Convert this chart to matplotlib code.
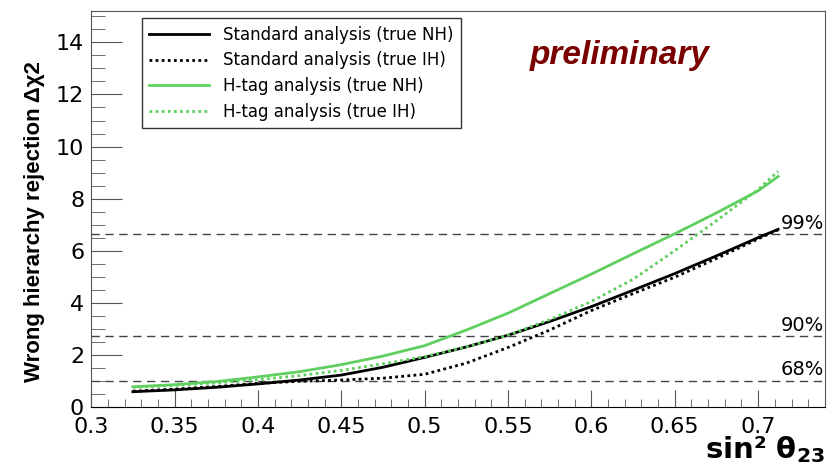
import matplotlib
matplotlib.use("Agg")
import matplotlib.pyplot as plt
from matplotlib.ticker import MultipleLocator

plt.rcParams['font.family'] = ['DejaVu Sans']

# sin^2 theta23 grid
sin2 = [0.325, 0.35, 0.375, 0.40, 0.425, 0.45, 0.475, 0.50, 0.525,
        0.55, 0.575, 0.60, 0.625, 0.65, 0.675, 0.70, 0.712]

std_nh = [0.58, 0.65, 0.75, 0.88, 1.03, 1.22, 1.52, 1.90, 2.30,
          2.75, 3.28, 3.85, 4.48, 5.12, 5.80, 6.50, 6.82]
std_ih = [0.60, 0.68, 0.78, 0.90, 0.98, 1.03, 1.10, 1.25, 1.68,
          2.28, 2.95, 3.70, 4.35, 4.98, 5.70, 6.45, 6.80]
htag_nh = [0.77, 0.85, 0.97, 1.15, 1.35, 1.62, 1.95, 2.35, 2.95,
           3.60, 4.35, 5.10, 5.88, 6.65, 7.45, 8.30, 8.85]
htag_ih = [0.75, 0.82, 0.92, 1.04, 1.20, 1.40, 1.65, 1.93, 2.30,
           2.75, 3.35, 4.05, 4.90, 6.00, 7.15, 8.35, 9.05]

# confidence levels
cl_values = [1.0, 2.71, 6.63]
cl_labels = ["68%", "90%", "99%"]

green = '#5fcf5f'

fig = plt.figure(figsize=(8.29, 4.66), dpi=100)
ax = fig.add_axes([0.110, 0.127, 0.885, 0.849])

for v, lab in zip(cl_values, cl_labels):
    ax.axhline(v, color='#444444', lw=1.0, ls=(0, (6, 4)))
    ax.text(0.7395, v + 0.05, lab, ha='right', va='bottom', fontsize=14)

ax.plot(sin2, std_nh, color='black', lw=2.0, label='Standard analysis (true NH)')
ax.plot(sin2, std_ih, color='black', lw=2.0, ls=(0, (1, 1.2)), label='Standard analysis (true IH)')
ax.plot(sin2, htag_nh, color=green, lw=2.0, label='H-tag analysis (true NH)')
ax.plot(sin2, htag_ih, color=green, lw=2.0, ls=(0, (1, 1.2)), label='H-tag analysis (true IH)')

ax.set_xlim(0.3, 0.74)
ax.set_ylim(0, 15.2)
ax.xaxis.set_major_locator(MultipleLocator(0.05))
ax.xaxis.set_minor_locator(MultipleLocator(0.01))
ax.yaxis.set_major_locator(MultipleLocator(2))
ax.yaxis.set_minor_locator(MultipleLocator(0.5))
ax.tick_params(axis='x', which='major', direction='in', length=12, labelsize=16, pad=7)
ax.tick_params(axis='x', which='minor', direction='in', length=6)
ax.tick_params(axis='y', which='major', direction='in', length=22, labelsize=16, pad=5)
ax.tick_params(axis='y', which='minor', direction='in', length=10)
ax.tick_params(which='both', color='#555555')
ax.set_xticklabels([f"{t:g}" for t in ax.get_xticks()])
for s in ax.spines.values():
    s.set_color('#555555')
ax.spines['bottom'].set_color('black')

ax.set_ylabel('Wrong hierarchy rejection Δχ2', fontsize=16, fontweight='bold',
              family=['Liberation Sans', 'DejaVu Sans'])
ax.yaxis.set_label_coords(-0.063, 0.467)
fig.text(0.995, 0.002, r'sin² θ$_\mathbf{23}$', ha='right', va='bottom', fontsize=21,
         fontweight='bold')

ax.text(0.72, 0.889, 'preliminary', transform=ax.transAxes, fontsize=24,
        fontweight='bold', fontstyle='italic', color='#7a0000', ha='center', va='center',
        family=['Liberation Sans'])

leg = ax.legend(loc='upper left', bbox_to_anchor=(0.069, 0.982), borderaxespad=0,
                fontsize=12, frameon=True, fancybox=False, edgecolor='black',
                handlelength=3.6, borderpad=0.45, labelspacing=0.46, handletextpad=0.8)
leg.get_frame().set_linewidth(1.0)

fig.savefig('out.png', dpi=100)
